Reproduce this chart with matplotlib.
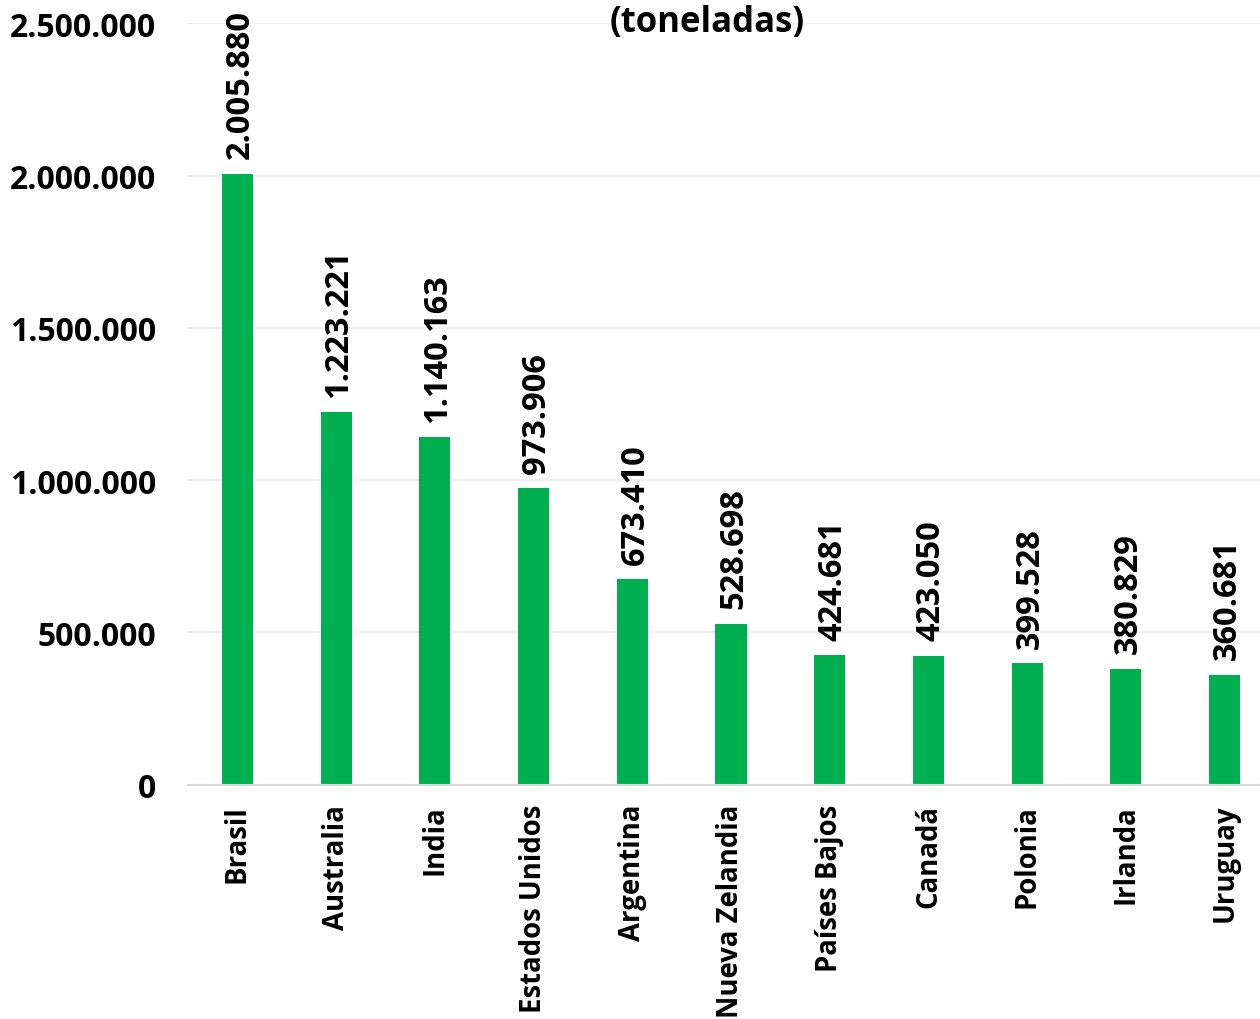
import matplotlib.pyplot as plt
from matplotlib.ticker import FuncFormatter

# data
paises = ['Brasil', 'Australia', 'India', 'Estados Unidos', 'Argentina',
          'Nueva Zelandia', 'Países Bajos', 'Canadá', 'Polonia', 'Irlanda', 'Uruguay']
toneladas = [2005880, 1223221, 1140163, 973906, 673410,
             528698, 424681, 423050, 399528, 380829, 360681]
y_ticks = [0, 500000, 1000000, 1500000, 2000000, 2500000]

verde = '#00B050'


def miles(v, pos=None):
    # separador de miles con punto
    return f'{int(v):,}'.replace(',', '.')


plt.rcParams['font.family'] = ['Open Sans', 'DejaVu Sans']
plt.rcParams['font.weight'] = 'bold'

fig = plt.figure(figsize=(12.6, 10.2), dpi=100)
# the axes runs a little past the right edge, as in the original crop
ax = fig.add_axes([188 / 1260, 1 - 785.5 / 1020, (1274 - 188) / 1260, (785.5 - 24.3) / 1020])

x = range(len(paises))
ax.bar(x, toneladas, width=0.315, color=verde, zorder=3)

for xi, v in zip(x, toneladas):
    ax.annotate(miles(v), (xi, v), xytext=(2, 11), textcoords='offset points',
                rotation=90, ha='center', va='bottom', fontsize=23.5, fontweight='bold')

ax.set_xlim(-0.5, len(paises) - 0.5)
ax.set_ylim(0, 2500000)
ax.set_yticks(y_ticks)
ax.yaxis.set_major_formatter(FuncFormatter(miles))
ax.set_xticks(list(x))
ax.set_xticklabels(paises, rotation=90, ha='center', va='top')

ax.tick_params(axis='y', length=0, pad=23, labelsize=23)
ax.tick_params(axis='x', length=0, pad=14, labelsize=19.8)
for lab in ax.get_xticklabels():
    lab.set_x(lab.get_position()[0])
for lab in ax.get_xticklabels() + ax.get_yticklabels():
    lab.set_fontweight('bold')

ax.grid(axis='y', color='#efefef', linewidth=1.5, zorder=0)
for side in ['top', 'right', 'left']:
    ax.spines[side].set_visible(False)
ax.spines['bottom'].set_color('#d9d9d9')
ax.spines['bottom'].set_linewidth(1.5)
ax.spines['bottom'].set_zorder(4)

fig.text(707.5 / 1260, 1 - 23 / 1020, '(toneladas)', ha='center', va='center',
         fontsize=25, fontweight='bold')

fig.savefig('out.png', dpi=100)
